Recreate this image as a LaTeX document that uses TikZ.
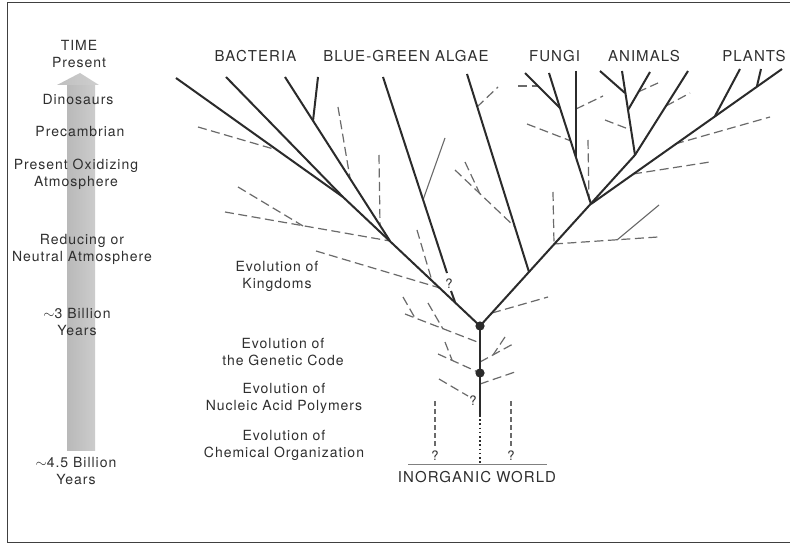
\documentclass[tikz,border=0pt]{standalone}
\usepackage{fontspec}
\setmainfont{TeX Gyre Heros}[LetterSpace=7]
\usetikzlibrary{shadings}
\definecolor{ink}{HTML}{2B2B2B}
\definecolor{dashc}{HTML}{6A6A6A}
\definecolor{txt}{HTML}{2F2F2F}
\begin{document}
\begin{tikzpicture}[x=1pt,y=-1pt,
 main/.style={line width=2pt, ink},
 trunk/.style={line width=2.4pt, ink},
 thinl/.style={line width=1.1pt, dashc},
 dsh/.style={line width=1.2pt, dashc, dash pattern=on 9pt off 4.5pt},
 dshv/.style={line width=1.2pt, dashc, dash pattern=on 5pt off 3pt},
 lbl/.style={text=txt, font=\fontsize{14}{17}\selectfont, align=center, inner sep=0pt},
 big/.style={text=txt, font=\fontsize{15}{18}\selectfont, inner sep=0pt},
 qm/.style={text=txt, font=\fontsize{13}{15}\selectfont, inner sep=0pt},
]
\useasboundingbox (0,0) rectangle (790,545);
\fill[white] (0,0) rectangle (790,545);
% frame
\draw[line width=1pt, black!75] (790,3) -- (7,3) -- (7,542.5) -- (790,542.5);

% time arrow
\shade[left color=gray!55, right color=gray!40] (67,84) rectangle (95,450);
\shade[left color=gray!50, right color=gray!38] (57,85) -- (80,73) -- (99,85) -- cycle;

% left labels
\node[lbl] (time) at (79,54.5) {TIME\\Present};
\node[lbl] (dino) at (78,100) {Dinosaurs};
\node[lbl] (prec) at (80,132) {Precambrian};
\node[lbl] (oxid) at (76,174.5) {Present Oxidizing\\Atmosphere};
\node[lbl] (redu) at (82,249) {Reducing or\\Neutral Atmosphere};
\node[lbl] (bil3) at (77,322.5) {$\sim$3 Billion\\Years};
\node[lbl] (bil45) at (76,471.5) {$\sim$4.5 Billion\\Years};

% middle labels
\node[lbl] (king) at (277,276.5) {Evolution of\\Kingdoms};
\node[lbl] (code) at (283,352) {Evolution of\\the Genetic Code};
\node[lbl] (nucl) at (284,398.5) {Evolution of\\Nucleic Acid Polymers};
\node[lbl] (chem) at (284,445) {Evolution of\\Chemical Organization};

% top labels
\node[big] (bact) at (255.5,56) {BACTERIA};
\node[big] (bga) at (406,56) {BLUE-GREEN ALGAE};
\node[big] (fung) at (554.5,56) {FUNGI};
\node[big] (anim) at (644,56) {ANIMALS};
\node[big] (plnt) at (754,56) {PLANTS};
\node[big] (inorg) at (477,477.5) {INORGANIC WORLD};

% ---------- coordinates ----------
% trunk
\coordinate (gnd) at (480,464); \coordinate (t0) at (480,415);
\coordinate (d1) at (480,373); \coordinate (d2) at (480,326);
\coordinate (gl) at (408,464); \coordinate (gr) at (547,464);
\coordinate (qv1a) at (435,401); \coordinate (qv1b) at (435,447);
\coordinate (qv2a) at (511,401); \coordinate (qv2b) at (511,447);
% near trunk
\coordinate (a1) at (405,314); \coordinate (a2) at (480,343);
\coordinate (a3) at (403,297); \coordinate (a4) at (415,318);
\coordinate (a5) at (428,303); \coordinate (a6) at (443,329);
\coordinate (b1) at (438,354); \coordinate (b2) at (445,342); \coordinate (b3) at (452,360);
\coordinate (c1) at (480,362); \coordinate (c2) at (513,344);
\coordinate (c3) at (505,337); \coordinate (c4) at (493,355);
\coordinate (e1) at (480,384); \coordinate (e2) at (515,372);
\coordinate (f1) at (439,379); \coordinate (f2) at (468,396);
% right main
\coordinate (a0) at (635,155); \coordinate (r1) at (529,272);
\coordinate (r2) at (554,244); \coordinate (jf) at (591,204);
\coordinate (rd) at (492,313); \coordinate (rde) at (548,297);
\coordinate (ar) at (688,71); \coordinate (am) at (622,71);
\coordinate (aj1) at (628,110); \coordinate (aj2) at (625,93);
\coordinate (al) at (600,71); \coordinate (as) at (650,72);
\coordinate (ad1) at (631,130); \coordinate (ad1e) at (605,120);
\coordinate (ad2) at (638,92); \coordinate (ad2e) at (658,83);
\coordinate (ad3) at (666,106); \coordinate (ad3e) at (690,93);
% fungi
\coordinate (fj) at (560,108); \coordinate (fl) at (525,73); \coordinate (fm) at (549,73);
\coordinate (fvt) at (576,71); \coordinate (fvb) at (576,157);
\coordinate (fd1) at (538,86); \coordinate (fd1e) at (518,86);
\coordinate (fd2) at (576,109); \coordinate (fd2e) at (603,96);
\coordinate (fd3) at (571,141); \coordinate (fd3e) at (527,124);
\coordinate (fd4) at (589,200); \coordinate (fd4e) at (588,140);
% plants
\coordinate (pt) at (782,69);
\coordinate (p1) at (633,174); \coordinate (p1e) at (710,162);
\coordinate (p2) at (675,144); \coordinate (p2e) at (770,117);
\coordinate (p3) at (715,116); \coordinate (p3e) at (740,69);
\coordinate (p4) at (757,86); \coordinate (p4e) at (761,69);
% r2 branch
\coordinate (r2e) at (658,237); \coordinate (r2v) at (553,192);
\coordinate (r2s) at (617,240); \coordinate (r2se) at (659,205);
% algae right
\coordinate (gt) at (467,74);
\coordinate (g1) at (477,107); \coordinate (g1e) at (498,87);
\coordinate (g2) at (515,227); \coordinate (g2e) at (455,170);
\coordinate (g3) at (480,194); \coordinate (g3e) at (465,162);
% left main
\coordinate (l1) at (343,197); \coordinate (l2) at (390,241);
\coordinate (l3) at (440,288); \coordinate (l4) at (432,281); \coordinate (l4e) at (417,230);
\coordinate (l5) at (455,302); \coordinate (l5e) at (451,291);
\coordinate (k1t) at (176,78); \coordinate (k2t) at (226,77);
\coordinate (k1d) at (277,150); \coordinate (k1de) at (198,127);
\coordinate (k3t) at (285,77); \coordinate (k3j) at (313,121); \coordinate (k3s) at (318,77);
\coordinate (k3d) at (350,178); \coordinate (k3de) at (338,107);
\coordinate (k3v) at (380,225); \coordinate (k3ve) at (379,155);
\coordinate (ld1) at (225,212); \coordinate (ld1m) at (303,226); \coordinate (ld1s) at (238,187);
\coordinate (ld2) at (316,251);
\coordinate (mt) at (383,77); \coordinate (mb) at (447,273);
\coordinate (mj) at (423,200); \coordinate (mje) at (445,138);

% ---------- dashed ----------
\draw[dsh] (a1) -- (a2); \draw[dsh] (a3) -- (a4); \draw[dsh] (a5) -- (a6);
\draw[dsh] (b1) -- (d1); \draw[dsh] (b2) -- (b3);
\draw[dsh] (c1) -- (c2); \draw[dsh] (c3) -- (c4);
\draw[dsh] (e1) -- (e2); \draw[dsh] (f1) -- (f2);
\draw[dsh] (rd) -- (rde);
\draw[dsh] (ad1e) -- (ad1); \draw[dsh] (ad2) -- (ad2e); \draw[dsh] (ad3) -- (ad3e);
\draw[dsh] (fd1e) -- (fd1); \draw[dsh] (fd2) -- (fd2e); \draw[dsh] (fd3e) -- (fd3);
\draw[dsh] (fd4e) -- (fd4);
\draw[dsh] (p1) -- (p1e); \draw[dsh] (p2) -- (p2e);
\draw[dsh] (r2) -- (r2e); \draw[dsh] (r2v) -- (r2);
\draw[dsh] (g1) -- (g1e); \draw[dsh] (g2e) -- (g2); \draw[dsh] (g3e) -- (g3);
\draw[dsh] (l4e) -- (l4);
\draw[dsh] (k1de) -- (k1d); \draw[dsh] (k3de) -- (k3d); \draw[dsh] (k3ve) -- (k3v);
\draw[dsh] (ld1) -- (l2); \draw[dsh] (ld1s) -- (ld1m);
\draw[dsh] (ld2) -- (l3);
\draw[dshv] (qv1a) -- (qv1b); \draw[dshv] (qv2a) -- (qv2b);

% ---------- thin solid ----------
\draw[thinl] (mj) -- (mje);
\draw[thinl] (r2s) -- (r2se);

% ---------- main solid ----------
\draw[main] (d2) -- (a0) -- (ar);
\draw[main] (a0) -- (am);
\draw[main] (al) -- (aj2);
\draw[main] (as) -- (aj1);
\draw[main] (jf) -- (fj) -- (fl);
\draw[main] (fj) -- (fm);
\draw[main] (fvt) -- (fvb);
\draw[main] (jf) -- (pt);
\draw[main] (p3) -- (p3e);
\draw[main] (p4) -- (p4e);
\draw[main] (r1) -- (gt);
\draw[main] (d2) -- (l1) -- (k1t);
\draw[main] (l1) -- (k2t);
\draw[main] (l2) -- (k3t);
\draw[main] (k3j) -- (k3s);
\draw[main] (mt) -- (mb);
\draw[main] (l5e) -- (l5);

% trunk
\draw[line width=2.2pt, ink, dash pattern=on 1.6pt off 2.6pt] (t0) -- (gnd);
\draw[trunk] (t0) -- (d1) -- (d2);
\draw[line width=1pt, gray] (gl) -- (gr);
\fill[ink] (d1) circle (4.6pt);
\fill[ink] (d2) circle (4.6pt);

% question marks
\node[qm] (q1) at (449,284) {?};
\node[qm] (q2) at (473,401) {?};
\node[qm] (q3) at (435,456) {?};
\node[qm] (q4) at (511,456) {?};
\end{tikzpicture}
\end{document}
